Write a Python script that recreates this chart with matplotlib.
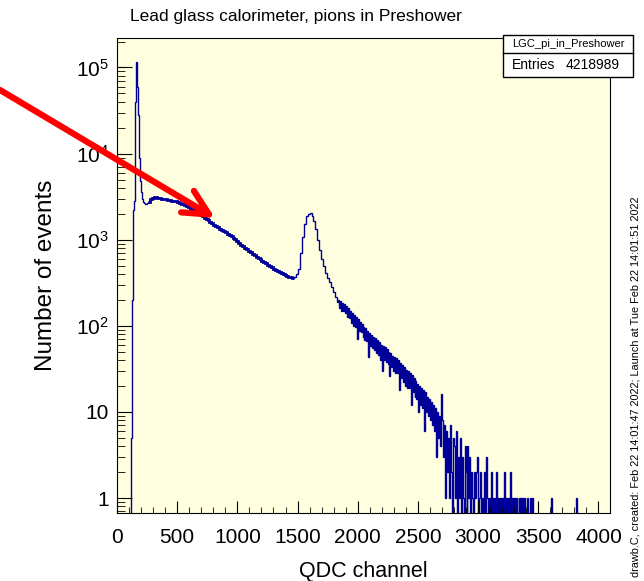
import numpy as np
import matplotlib
matplotlib.use("Agg")
import matplotlib.pyplot as plt
from matplotlib.patches import Rectangle
from matplotlib.ticker import FixedLocator, MultipleLocator, FuncFormatter, NullFormatter

plt.rcParams['font.family'] = ['Liberation Sans', 'DejaVu Sans']

title = "Lead glass calorimeter, pions in Preshower"
hist_name = "LGC_pi_in_Preshower"
entries = 4218989
stamp = "drawb.C, created: Feb 22 14:01:47 2022; Launch at Tue Feb 22 14:01:51 2022"

# QDC channel ranges (start, bin width) and counts
empty_start, empty_width = 0, 112
spike_start, spike_width = 112, 8
spike_counts = [0, 5, 200, 2200, 2800, 40000, 115000, 60000, 28000, 9000,
                4800, 3600, 3000, 2750, 2650, 2600, 2600, 2650]

body_start, body_width = 256, 16
body_counts = [2754, 2951, 3090, 3126, 3105, 3070, 3030, 2990, 2965, 2940,
               2917, 2884, 2851, 2818, 2786, 2754, 2692, 2630, 2570, 2512,
               2455, 2371, 2291, 2239, 2163, 2089, 2018, 1950, 1862, 1799,
               1738, 1679, 1622, 1549, 1496, 1445, 1396, 1349, 1303, 1259,
               1216, 1175, 1135, 1096, 1055, 1010, 965, 915, 876, 835,
               804, 770, 741, 716, 684, 661, 631, 610, 589, 569,
               550, 531, 513, 495, 479, 462, 447, 435, 422, 408,
               398, 389, 380, 372, 364, 358, 368, 398, 457, 708,
               1070, 1510, 1860, 2000, 2040, 1900, 1660, 1320, 1000, 760,
               600, 490, 415, 360, 322, 285, 245, 214, 191]

tail_start, tail_width = 1840, 8
tail_counts = [200, 160, 195, 150, 185, 148, 178, 140, 170, 128, 160, 122,
               150, 108, 142, 100, 135, 96, 128, 70, 120, 88, 112, 84,
               104, 74, 98, 68, 94, 66, 88, 44, 82, 58, 78, 55,
               75, 52, 72, 48, 68, 46, 64, 40, 60, 30, 58, 40,
               56, 38, 54, 36, 50, 26, 48, 33, 45, 30, 43, 28,
               42, 28, 40, 18, 37, 25, 35, 22, 33, 20, 31, 19,
               30, 19, 28, 12, 27, 17, 25, 15, 23, 14, 21, 10,
               20, 12, 19, 11, 18, 6, 17, 10, 15, 9, 14, 8,
               13, 7, 12, 6, 11, 3, 10, 5, 9, 4, 8, 16,
               8, 3, 7, 1, 6, 2, 5, 1, 7, 2, 0, 5,
               4, 1, 6, 0, 3, 1, 5, 0, 3, 1, 0, 4,
               2, 0, 4, 1, 3, 0, 2, 1, 0, 2, 1, 2,
               3, 0, 1, 2, 0, 1, 0, 2, 0, 3, 1, 0,
               1, 0, 2, 0, 1, 0, 1, 0, 2, 0, 1, 0,
               1, 0, 1, 0, 2, 0, 1, 0, 1, 0, 2, 0,
               1, 0, 1, 0, 1, 0, 0, 1, 0, 1, 0, 1,
               0, 1, 0, 0, 1, 0, 0, 1, 0, 1, 0, 0]

far_start, far_stop, far_width = 3472, 4096, 8
far_hit_channels = [3608, 3816]
far_hit_counts = [1, 1]

# assemble bins
far_counts = np.zeros((far_stop - far_start) // far_width)
for ch, n in zip(far_hit_channels, far_hit_counts):
    far_counts[(ch - far_start) // far_width] = n

body_edges = np.arange(body_start, body_start + body_width * (len(body_counts) + 1), body_width)
edges = np.concatenate([
    [empty_start],
    np.arange(spike_start, spike_start + spike_width * len(spike_counts), spike_width),
    body_edges[:-1],
    np.arange(tail_start, tail_start + tail_width * len(tail_counts), tail_width),
    np.arange(far_start, far_stop + 1, far_width),
])
counts = np.concatenate([[0], spike_counts, body_counts, tail_counts, far_counts]).astype(float)
counts_draw = np.where(counts > 0, counts, 0.05)

fig = plt.figure(figsize=(6.44, 5.81), dpi=100)
ax = fig.add_axes([117 / 644, 1 - 513 / 581, 493 / 644, 475 / 581])
ax.set_facecolor('#ffffe0')

ax.stairs(counts_draw, edges, baseline=None, color='#000099', lw=1.0)
# the well populated middle part looks thicker because of bin-to-bin noise
ax.stairs(body_counts[:76], body_edges[:77], baseline=None, color='#000099', lw=2.0)

ax.set_yscale('log')
ax.set_xlim(0, 4096)
ax.set_ylim(0.67, 2.2e5)

ax.xaxis.set_major_locator(MultipleLocator(500))
ax.xaxis.set_minor_locator(MultipleLocator(100))
ax.yaxis.set_major_locator(FixedLocator([1, 10, 1e2, 1e3, 1e4, 1e5]))
ax.yaxis.set_minor_locator(FixedLocator([m * 10 ** d for d in range(-1, 6) for m in range(2, 10)]))
ax.yaxis.set_minor_formatter(NullFormatter())


def ylab(v, pos):
    if v < 5:
        return "1"
    if v < 50:
        return "10"
    return "$\\mathregular{10^{%d}}$" % round(np.log10(v))


ax.yaxis.set_major_formatter(FuncFormatter(ylab))
ax.tick_params(which='both', direction='in', labelsize=15, top=False, right=False)
ax.tick_params(axis='x', which='major', length=9, pad=11)
ax.tick_params(axis='x', which='minor', length=4)
ax.tick_params(axis='y', which='major', length=11, pad=6)
ax.tick_params(axis='y', which='minor', length=6)

ax.set_xlabel("QDC channel", fontsize=15.5, labelpad=10)
ax.set_ylabel("Number of events", fontsize=17.5, labelpad=13)
fig.text(296 / 644, 1 - 16 / 581, title, ha='center', va='center', fontsize=12.5)

# stats box
fig.add_artist(Rectangle((503 / 644, 1 - 77 / 581), 130 / 644, 42 / 581,
                         transform=fig.transFigure, fc='white', ec='black', lw=1))
fig.add_artist(plt.Line2D([503 / 644, 633 / 644], [1 - 53 / 581, 1 - 53 / 581],
                          transform=fig.transFigure, color='black', lw=1))
fig.text(568 / 644, 1 - 44 / 581, hist_name, ha='center', va='center', fontsize=8)
fig.text(512 / 644, 1 - 65 / 581, "Entries", ha='left', va='center', fontsize=10)
fig.text(620 / 644, 1 - 65 / 581, str(entries), ha='right', va='center', fontsize=10)

fig.text(636 / 644, 4 / 581, stamp, rotation=90, ha='center', va='bottom', fontsize=7.8)

# red arrow
ax.annotate('', xy=(215 / 644, 1 - 218 / 581), xycoords='figure fraction',
            xytext=(0, 1 - 90 / 581), textcoords='figure fraction',
            arrowprops=dict(arrowstyle='->,head_length=0.9,head_width=0.45',
                            color='red', lw=4.5, mutation_scale=20,
                            shrinkA=0, shrinkB=0),
            annotation_clip=False)

fig.savefig("out.png", dpi=100)
